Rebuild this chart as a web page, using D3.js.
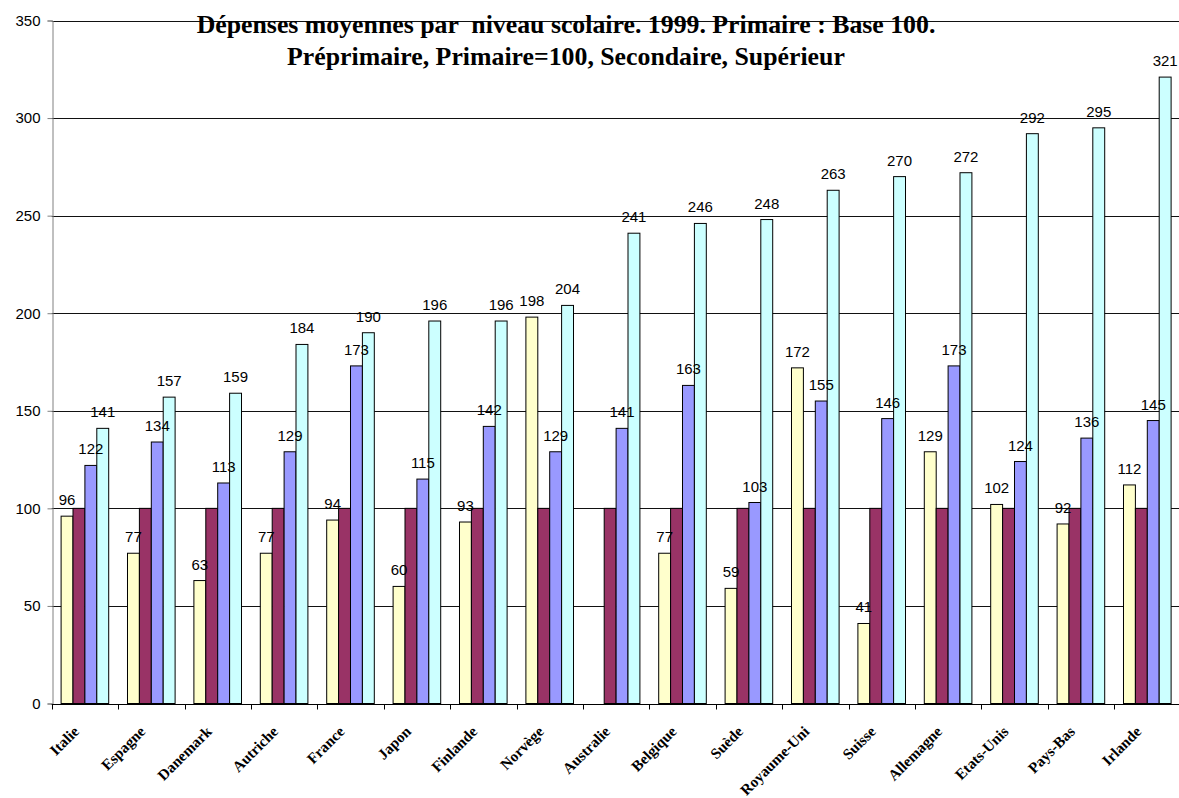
<!DOCTYPE html>
<html>
<head>
<meta charset="utf-8">
<script src="https://cdn.jsdelivr.net/npm/d3@7"></script>
<style>
  html, body { margin: 0; padding: 0; background: #fff; }
  svg { display: block; }
</style>
</head>
<body>
<svg id="chart" width="1179" height="798"></svg>
<script>
// Countries, in the order drawn
const categories = ["Italie", "Espagne", "Danemark", "Autriche", "France", "Japon", "Finlande", "Norvège",
  "Australie", "Belgique", "Suède", "Royaume-Uni", "Suisse", "Allemagne", "Etats-Unis", "Pays-Bas", "Irlande"];

// Spending per education level, primary = 100
const preprimaire = [96, 77, 63, 77, 94, 60, 93, 198, null, 77, 59, 172, 41, 129, 102, 92, 112];
const primaire    = [100, 100, 100, 100, 100, 100, 100, 100, 100, 100, 100, 100, 100, 100, 100, 100, 100];
const secondaire  = [122, 134, 113, 129, 173, 115, 142, 129, 141, 163, 103, 155, 146, 173, 124, 136, 145];
const superieur   = [141, 157, 159, 184, 190, 196, 196, 204, 241, 246, 248, 263, 270, 272, 292, 295, 321];

const seriesNames = ["Préprimaire", "Primaire", "Secondaire", "Supérieur"];
const seriesValues = [preprimaire, primaire, secondaire, superieur];
const seriesColors = ["#FFFFCC", "#993366", "#9999FF", "#CCFFFF"];
const seriesLabelled = [true, false, true, true];

const yTicks = [0, 50, 100, 150, 200, 250, 300, 350];

const titleLines = [
  "Dépenses moyennes par  niveau scolaire. 1999. Primaire : Base 100.",
  "Préprimaire, Primaire=100, Secondaire, Supérieur"
];

const svg = d3.select("#chart");

const plotLeft = 51.7, bandStep = 66.4;
const plotTop = 20.5, plotBottom = 703.5;

const x0 = d3.scaleBand()
  .domain(categories)
  .range([plotLeft, plotLeft + bandStep * categories.length])
  .padding(0);

const groupW = x0.bandwidth() * 0.717;
const groupOff = (x0.bandwidth() - groupW) / 2;
const x1 = d3.scaleBand()
  .domain(seriesNames)
  .range([groupOff, groupOff + groupW])
  .padding(0);

const y = d3.scaleLinear().domain([0, 350]).range([plotBottom, plotTop]);
const crisp = v => Math.round(v) + 0.5;

// Horizontal gridlines
svg.append("g")
  .selectAll("line")
  .data(yTicks.filter(t => t > 0))
  .join("line")
  .attr("x1", plotLeft)
  .attr("x2", 1179)
  .attr("y1", d => crisp(y(d)))
  .attr("y2", d => crisp(y(d)))
  .attr("stroke", "#111")
  .attr("stroke-width", 1);

// Bars
const rows = categories.map((c, i) => ({
  cat: c,
  vals: seriesNames.map((s, k) => ({ s, k, v: seriesValues[k][i] }))
}));

const groups = svg.append("g")
  .selectAll("g")
  .data(rows)
  .join("g")
  .attr("transform", d => `translate(${x0(d.cat)},0)`);

groups.selectAll("rect")
  .data(d => d.vals.filter(e => e.v != null))
  .join("rect")
  .attr("x", e => x1(e.s))
  .attr("y", e => y(e.v))
  .attr("width", x1.bandwidth())
  .attr("height", e => y(0) - y(e.v))
  .attr("fill", e => seriesColors[e.k])
  .attr("stroke", "#000")
  .attr("stroke-width", 1);

// Value labels
groups.selectAll("text")
  .data(d => d.vals.filter(e => e.v != null && seriesLabelled[e.k]))
  .join("text")
  .attr("x", e => x1(e.s) + x1.bandwidth() / 2)
  .attr("y", e => y(e.v) - 11)
  .attr("text-anchor", "middle")
  .attr("font-family", "'Liberation Sans', Arial, sans-serif")
  .attr("font-size", 15)
  .attr("fill", "#000")
  .text(e => e.v);

// Y axis
const yAxis = d3.axisLeft(y).tickValues(yTicks).tickSize(5).tickPadding(7);
const yg = svg.append("g")
  .attr("transform", `translate(${crisp(plotLeft)},0)`)
  .call(yAxis);
yg.select(".domain").attr("stroke", "#808080");
yg.selectAll(".tick line").attr("stroke", "#808080");
yg.selectAll(".tick text")
  .attr("font-family", "'Liberation Sans', Arial, sans-serif")
  .attr("font-size", 15)
  .attr("fill", "#000");

// X axis: baseline and ticks at category boundaries
const xAxisG = svg.append("g");
xAxisG.append("line")
  .attr("x1", plotLeft).attr("x2", 1179)
  .attr("y1", crisp(y(0))).attr("y2", crisp(y(0)))
  .attr("stroke", "#000");
xAxisG.selectAll("line.tk")
  .data(categories)
  .join("line")
  .attr("class", "tk")
  .attr("x1", d => crisp(x0(d)))
  .attr("x2", d => crisp(x0(d)))
  .attr("y1", crisp(y(0)))
  .attr("y2", crisp(y(0)) + 5)
  .attr("stroke", "#000");

xAxisG.selectAll("text")
  .data(categories)
  .join("text")
  .attr("transform", d => `translate(${x0(d) + x0.bandwidth() / 2 - 5},${y(0) + 29}) rotate(-45)`)
  .attr("text-anchor", "end")
  .attr("font-family", "'Liberation Serif', 'Times New Roman', serif")
  .attr("font-weight", "bold")
  .attr("font-size", 15.2)
  .attr("fill", "#000")
  .text(d => d);

// Title
const titleCenter = 566;
const titleBaselines = [33, 65];
svg.append("g")
  .selectAll("text")
  .data(titleLines)
  .join("text")
  .attr("x", titleCenter)
  .attr("y", (d, i) => titleBaselines[i])
  .attr("text-anchor", "middle")
  .attr("font-family", "'Liberation Serif', 'Times New Roman', serif")
  .attr("font-weight", "bold")
  .attr("font-size", 25.8)
  .attr("fill", "#000")
  .style("white-space", "pre")
  .text(d => d);
</script>
</body>
</html>
